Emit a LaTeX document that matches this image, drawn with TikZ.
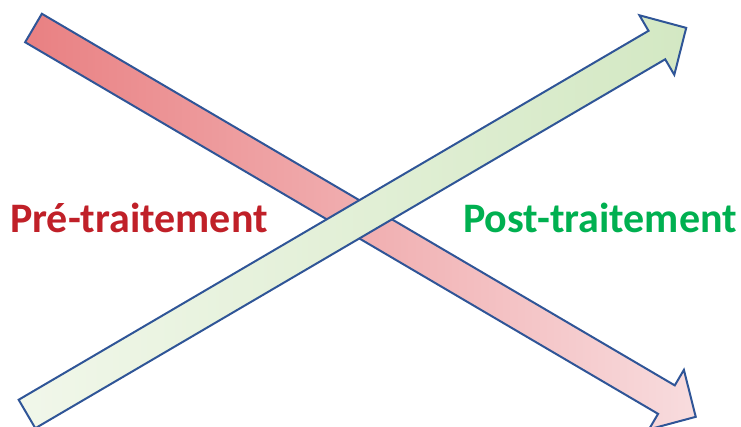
\documentclass[tikz,border=0pt]{standalone}
\usepackage{fontspec}
\setmainfont{Carlito}
\definecolor{outlineblue}{RGB}{47,85,151}
\definecolor{redstart}{RGB}{233,128,130}
\definecolor{redend}{RGB}{248,220,222}
\definecolor{greenstart}{RGB}{241,247,234}
\definecolor{greenend}{RGB}{211,232,195}
\definecolor{pretext}{RGB}{192,32,40}
\definecolor{posttext}{RGB}{0,176,80}
\begin{document}
\begin{tikzpicture}[x=1pt, y=-1pt,
  bigarrow/.style={draw=outlineblue, line width=2pt, line join=miter},
  label/.style={font=\fontsize{42}{50}\selectfont\bfseries, inner sep=0pt}]
% Set the canvas
\useasboundingbox (0,0) rectangle (741,427);

% Red arrow, from top left to bottom right
\begin{scope}[shift={(33.5,28)}, rotate=-30.42]
\shade[bigarrow, left color=redstart, right color=redend]
  (0,-16.5) -- (734,-16.5) -- (734,-34.5) -- (768,0) -- (734,34.5) -- (734,16.5) -- (0,16.5) -- cycle;
\end{scope}

% Green arrow, from bottom left to top right
\begin{scope}[shift={(27,414)}, rotate=30.36]
\shade[bigarrow, left color=greenstart, right color=greenend]
  (0,-16.5) -- (730,-16.5) -- (730,-34.5) -- (764,0) -- (730,34.5) -- (730,16.5) -- (0,16.5) -- cycle;
\end{scope}

% Labels
\node[label, text=pretext, anchor=base west] (pre) at (10,233) {Pré-traitement};
\node[label, text=posttext, anchor=base east] (post) at (737,233) {Post-traitement};
\end{tikzpicture}
\end{document}
